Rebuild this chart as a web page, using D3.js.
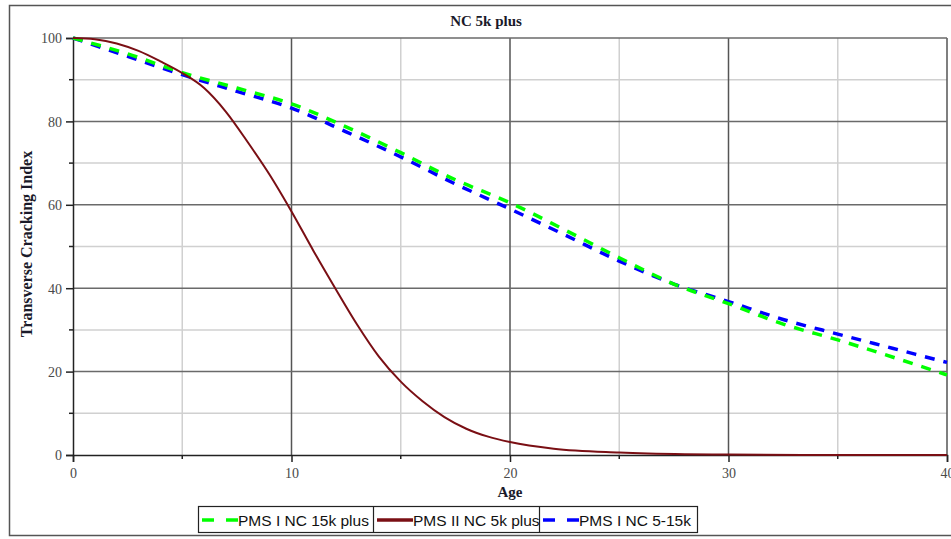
<!DOCTYPE html>
<html>
<head>
<meta charset="utf-8">
<script src="https://cdn.jsdelivr.net/npm/d3@7"></script>
<style>
  body { margin: 0; background: #fff; }
  svg { display: block; }
</style>
</head>
<body>
<div id="chart"></div>
<script>
// Data
const seriesNames = ["PMS I NC 15k plus", "PMS II NC 5k plus", "PMS I NC 5-15k"];

const agesPms1 = [0, 2.5, 5, 7.5, 10, 12.5, 15, 17.5, 20, 22.5, 25, 27.5, 30, 32.5, 35, 37.5, 40];
const pms1Nc15kPlus = [100, 96.2, 91.7, 88, 84.2, 78.7, 72.5, 66, 60.5, 54, 47.3, 41, 36.3, 31.4, 27.6, 23.5, 19.2];
const pms1Nc5to15k = [100, 95.6, 91.2, 87.2, 83.2, 77.5, 71.5, 65, 59, 52.8, 46.5, 41, 36.8, 32.5, 29, 25.6, 22.2];

const agesPms2 = [0, 1, 2, 3, 4, 5, 6, 7, 8, 9, 10, 11, 12, 13, 14, 15, 16, 17, 18, 19, 20, 22, 25, 28, 30, 35, 40];
const pms2Nc5kPlus = [100, 99.7, 98.7, 96.9, 94.4, 91.6, 88, 82.3, 75, 67.2, 58.4, 49, 40, 31.3, 23.6, 17.6, 12.9, 9.1, 6.3, 4.4, 3.1, 1.5, 0.6, 0.2, 0.1, 0, 0];

const xTicks = [0, 10, 20, 30, 40];
const yTicks = [0, 20, 40, 60, 80, 100];

const width = 951, height = 539;
const margin = {top: 38, right: 4, bottom: 84, left: 73};
const plotW = width - margin.left - margin.right;
const plotH = height - margin.top - margin.bottom;

const serif = "'Liberation Serif', 'Times New Roman', serif";

const svg = d3.select("#chart").append("svg")
    .attr("width", width)
    .attr("height", height);

// outer frame (cut off at the right edge like the picture)
svg.append("rect")
    .attr("x", 9.5).attr("y", 5.5)
    .attr("width", 960).attr("height", 530)
    .attr("fill", "none")
    .attr("stroke", "#555")
    .attr("stroke-width", 1.5);

const g = svg.append("g")
    .attr("transform", `translate(${margin.left},${margin.top})`);

const x = d3.scaleLinear().domain([0, 40]).range([0, plotW]);
const y = d3.scaleLinear().domain([0, 100]).range([plotH, 0]);

// minor grid
const minorX = d3.range(5, 40, 10);
const minorY = d3.range(10, 100, 20);
g.append("g").selectAll("line").data(minorX).enter().append("line")
    .attr("x1", d => x(d)).attr("x2", d => x(d))
    .attr("y1", 0).attr("y2", plotH)
    .attr("stroke", "#d0d0d0").attr("stroke-width", 1.5);
g.append("g").selectAll("line").data(minorY).enter().append("line")
    .attr("x1", 0).attr("x2", plotW)
    .attr("y1", d => y(d)).attr("y2", d => y(d))
    .attr("stroke", "#d0d0d0").attr("stroke-width", 1.5);

// major grid
g.append("g").selectAll("line").data(xTicks.slice(1)).enter().append("line")
    .attr("x1", d => x(d)).attr("x2", d => x(d))
    .attr("y1", 0).attr("y2", plotH)
    .attr("stroke", "#555").attr("stroke-width", 1.5);
g.append("g").selectAll("line").data(yTicks.slice(1)).enter().append("line")
    .attr("x1", 0).attr("x2", plotW)
    .attr("y1", d => y(d)).attr("y2", d => y(d))
    .attr("stroke", "#6a6a6a").attr("stroke-width", 1.5);

// axes
const xAxis = g.append("g")
    .attr("transform", `translate(0,${plotH})`)
    .call(d3.axisBottom(x).tickValues(xTicks).tickSize(7).tickPadding(6));
const yAxis = g.append("g")
    .call(d3.axisLeft(y).tickValues(yTicks).tickSize(7).tickPadding(4));

[xAxis, yAxis].forEach(a => {
    a.select(".domain").attr("stroke", "#222").attr("stroke-width", 1.5);
    a.selectAll(".tick line").attr("stroke", "#222").attr("stroke-width", 1.5);
    a.selectAll(".tick text")
        .attr("fill", "#4a4a4a")
        .style("font-family", serif)
        .style("font-size", "14px");
});
yAxis.selectAll(".tick text").attr("dy", "0.35em");

// minor ticks
g.append("g").selectAll("line").data(minorX).enter().append("line")
    .attr("x1", d => x(d)).attr("x2", d => x(d))
    .attr("y1", plotH).attr("y2", plotH + 4)
    .attr("stroke", "#222").attr("stroke-width", 1.5);
g.append("g").selectAll("line").data(minorY).enter().append("line")
    .attr("x1", -4).attr("x2", 0)
    .attr("y1", d => y(d)).attr("y2", d => y(d))
    .attr("stroke", "#222").attr("stroke-width", 1.5);

// series
const line = d3.line()
    .x(d => x(d[0]))
    .y(d => y(d[1]))
    .curve(d3.curveMonotoneX);

const series = [
    {name: seriesNames[0], pts: d3.zip(agesPms1, pms1Nc15kPlus), color: "#00ff00", width: 3.5, dash: "10,9"},
    {name: seriesNames[1], pts: d3.zip(agesPms2, pms2Nc5kPlus), color: "#7a0f14", width: 2, dash: null},
    {name: seriesNames[2], pts: d3.zip(agesPms1, pms1Nc5to15k), color: "#0000ff", width: 3.5, dash: "10,9"}
];

// draw blue first, then green, then brown on top
[series[2], series[0], series[1]].forEach(s => {
    g.append("path")
        .attr("d", line(s.pts))
        .attr("fill", "none")
        .attr("stroke", s.color)
        .attr("stroke-width", s.width)
        .attr("stroke-dasharray", s.dash);
});

// titles
svg.append("text")
    .attr("x", 486).attr("y", 26)
    .attr("text-anchor", "middle")
    .style("font-family", serif)
    .style("font-weight", "bold")
    .style("font-size", "15px")
    .attr("fill", "#1a1a2a")
    .text("NC 5k plus");

svg.append("text")
    .attr("transform", "translate(32,244) rotate(-90)")
    .attr("text-anchor", "middle")
    .style("font-family", serif)
    .style("font-weight", "bold")
    .style("font-size", "16px")
    .attr("fill", "#1a1a2a")
    .text("Transverse Cracking Index");

svg.append("text")
    .attr("x", 510).attr("y", 497)
    .attr("text-anchor", "middle")
    .style("font-family", serif)
    .style("font-weight", "bold")
    .style("font-size", "15px")
    .attr("fill", "#1a1a2a")
    .text("Age");

// legend
const legendCells = [
    {s: series[0], x0: 198, x1: 373},
    {s: series[1], x0: 373, x1: 539},
    {s: series[2], x0: 539, x1: 697}
];
const legY = 506, legH = 26;
const leg = svg.append("g");
leg.append("rect")
    .attr("x", 198.5).attr("y", legY + 0.5)
    .attr("width", 499).attr("height", legH)
    .attr("fill", "#fff").attr("stroke", "#222").attr("stroke-width", 1.2);
legendCells.forEach((c, i) => {
    if (i > 0) {
        leg.append("line")
            .attr("x1", c.x0 + 0.5).attr("x2", c.x0 + 0.5)
            .attr("y1", legY).attr("y2", legY + legH)
            .attr("stroke", "#222").attr("stroke-width", 1.2);
    }
    const ly = legY + legH / 2 + 1;
    leg.append("line")
        .attr("x1", c.x0 + 4).attr("x2", c.x0 + 40)
        .attr("y1", ly).attr("y2", ly)
        .attr("stroke", c.s.color)
        .attr("stroke-width", 3.5)
        .attr("stroke-dasharray", c.s.dash ? "12,12" : null);
    leg.append("text")
        .attr("x", c.x0 + 40).attr("y", ly + 5.5)
        .style("font-family", "'Liberation Sans', Arial, sans-serif")
        .style("font-size", "15.5px")
        .attr("fill", "#111")
        .text(c.s.name);
});
</script>
</body>
</html>
